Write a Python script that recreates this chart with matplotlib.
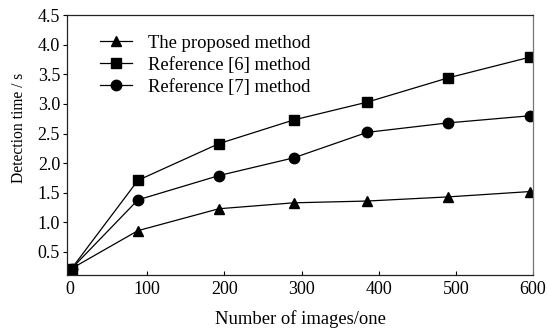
import matplotlib
matplotlib.use("Agg")
import matplotlib.pyplot as plt

# ---------- datos ----------
n_images = [2, 88, 193, 290, 385, 490, 596]
t_proposed = [0.22, 0.86, 1.23, 1.33, 1.36, 1.43, 1.52]
t_ref6 = [0.22, 1.71, 2.33, 2.73, 3.03, 3.44, 3.79]
t_ref7 = [0.22, 1.38, 1.79, 2.09, 2.52, 2.68, 2.80]

x_ticks = [0, 100, 200, 300, 400, 500, 600]
y_ticks = [0.5, 1.0, 1.5, 2.0, 2.5, 3.0, 3.5, 4.0, 4.5]

plt.rcParams["font.family"] = ["Liberation Serif", "DejaVu Serif"]

fig = plt.figure(figsize=(5.5, 3.29), dpi=100)
ax = fig.add_axes([0.1218, 0.164, 0.969 - 0.1218, 0.954 - 0.164])

style = dict(color="black", linewidth=0.9, markersize=7.5)
ax.plot(n_images, t_proposed, marker="^", label="The proposed method", **style)
ax.plot(n_images, t_ref6, marker="s", label="Reference [6] method", **style)
ax.plot(n_images, t_ref7, marker="o", label="Reference [7] method", **style)

ax.set_xlim(-4, 600)
ax.set_ylim(0.11, 4.5)
ax.set_xticks(x_ticks)
ax.set_yticks(y_ticks)
ax.set_yticklabels([f"{v:.1f}" for v in y_ticks])
ax.tick_params(axis="x", direction="in", length=3, labelsize=13, pad=4)
ax.tick_params(axis="y", direction="out", length=3, labelsize=13, pad=2)

for side in ("left", "bottom", "top"):
    ax.spines[side].set_color("#222222")
ax.spines["right"].set_color("#777777")
for s in ax.spines.values():
    s.set_linewidth(0.9)

ax.set_xlabel("Number of images/one", fontsize=13.4, labelpad=9)
ax.set_ylabel("Detection time / s", fontsize=11.2)
ax.yaxis.set_label_coords(-0.085, 0.565)

ax.legend(loc="upper left", bbox_to_anchor=(0.035, 0.99), frameon=False,
          fontsize=13.4, handlelength=1.7, handletextpad=0.9, labelspacing=0.28)

fig.savefig("out.png", dpi=100)
